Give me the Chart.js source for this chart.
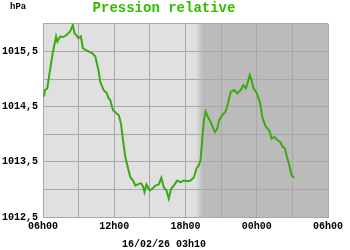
<!DOCTYPE html>
<html>
<head>
<meta charset="utf-8">
<script src="https://cdn.jsdelivr.net/npm/chart.js"></script>
<style>
  html, body { margin: 0; padding: 0; background: #fff; }
  #wrap { width: 350px; height: 250px; }
</style>
</head>
<body>
<div id="wrap"><canvas id="c"></canvas></div>
<script>
// hours since 06h00 (16/02) and pressure in hPa
const hours = [
  0.08, 0.17, 0.36, 0.59, 0.82, 1.10, 1.21, 1.44, 1.72, 2.00, 2.28, 2.51, 2.65, 2.79,
  2.98, 3.19, 3.36, 3.55, 3.83, 4.12, 4.40, 4.67, 4.82, 5.10, 5.38, 5.52, 5.66, 5.89,
  6.17, 6.37, 6.57, 6.74, 6.93, 7.13, 7.35, 7.58, 7.78, 8.06, 8.26, 8.43, 8.54, 8.71,
  8.99, 9.19, 9.47, 9.75, 9.97, 10.17, 10.40, 10.59, 10.79, 11.01, 11.30, 11.58, 11.86,
  12.15, 12.43, 12.71, 12.93, 13.13, 13.27, 13.42, 13.55, 13.69, 13.89, 14.12, 14.34,
  14.48, 14.68, 14.82, 15.11, 15.38, 15.58, 15.81, 16.09, 16.37, 16.65, 16.88, 17.08,
  17.22, 17.41, 17.56, 17.73, 18.01, 18.28, 18.49, 18.77, 19.05, 19.25, 19.47, 19.76,
  19.98, 20.18, 20.37, 20.54, 20.74, 20.94, 21.16
];
const pressure = [
  1014.68, 1014.80, 1014.83, 1015.16, 1015.47, 1015.77, 1015.68, 1015.77, 1015.76, 1015.80, 1015.86, 1015.98, 1015.83, 1015.80,
  1015.74, 1015.77, 1015.56, 1015.53, 1015.50, 1015.47, 1015.41, 1015.16, 1014.95, 1014.80, 1014.74, 1014.65, 1014.62, 1014.44,
  1014.38, 1014.35, 1014.19, 1013.89, 1013.59, 1013.41, 1013.22, 1013.16, 1013.07, 1013.10, 1013.11, 1013.05, 1012.95, 1013.09,
  1012.98, 1013.01, 1013.07, 1013.09, 1013.21, 1013.04, 1012.98, 1012.83, 1013.01, 1013.07, 1013.16, 1013.13, 1013.16,
  1013.15, 1013.16, 1013.22, 1013.38, 1013.44, 1013.53, 1013.95, 1014.25, 1014.41, 1014.31, 1014.22, 1014.10,
  1014.04, 1014.10, 1014.25, 1014.35, 1014.41, 1014.56, 1014.77, 1014.80, 1014.74, 1014.80, 1014.89, 1014.83,
  1014.92, 1015.07, 1014.98, 1014.83, 1014.74, 1014.56, 1014.29, 1014.13, 1014.07, 1013.92, 1013.95, 1013.89,
  1013.86, 1013.77, 1013.74, 1013.59, 1013.44, 1013.25, 1013.21
];

const startHour = 6;          // axis starts at 06h00
const nightFrom = 12.85;      // shading fades in here (hours from start)
const nightTo = 13.5;
const stamp = "16/02/26 03h10";

const mono = "'Liberation Mono', 'DejaVu Sans Mono', monospace";

// plot background: day / night shading
const bgPlugin = {
  id: "bg",
  beforeDraw(chart) {
    const { ctx, chartArea: a, scales } = chart;
    const x1 = scales.x.getPixelForValue(nightFrom);
    const x2 = scales.x.getPixelForValue(nightTo);
    ctx.save();
    const g = ctx.createLinearGradient(x1, 0, x2, 0);
    g.addColorStop(0, "#e0e0e0");
    g.addColorStop(1, "#bbbbbb");
    ctx.fillStyle = g;
    ctx.fillRect(a.left, a.top, a.right - a.left, a.bottom - a.top);
    ctx.restore();
  },
  afterDraw(chart) {
    const ctx = chart.ctx;
    ctx.save();
    ctx.font = "bold 9px " + mono;
    ctx.fillStyle = "#000";
    ctx.textBaseline = "middle";
    ctx.fillText("hPa", 10, 7);
    ctx.restore();
  }
};

new Chart(document.getElementById("c"), {
  type: "line",
  data: {
    datasets: [{
      data: hours.map((h, i) => ({ x: h, y: pressure[i] })),
      borderColor: "#3aaa12",
      borderWidth: 2,
      pointRadius: 0,
      tension: 0,
      fill: false
    }]
  },
  options: {
    responsive: true,
    maintainAspectRatio: false,
    animation: false,
    layout: { padding: { left: 0, right: 22, top: 0, bottom: 0 } },
    plugins: {
      legend: { display: false },
      tooltip: { enabled: false },
      title: {
        display: true,
        text: "Pression relative",
        color: "#33bb00",
        font: { family: mono, size: 14, weight: "bold" },
        padding: { top: 0, bottom: 7 }
      },
      subtitle: {
        display: true,
        position: "bottom",
        text: stamp,
        color: "#000",
        font: { family: mono, size: 10, weight: "bold" },
        padding: { top: 6, bottom: 0 }
      }
    },
    scales: {
      x: {
        type: "linear",
        min: 0,
        max: 24,
        border: { display: true, color: "#a8a8a8" },
        grid: { color: "#a8a8a8", drawTicks: false },
        ticks: {
          stepSize: 3,
          autoSkip: false,
          maxRotation: 0,
          padding: 3,
          color: "#000",
          font: { family: mono, size: 10, weight: "bold" },
          callback: v => v % 6 === 0 ? String((startHour + v) % 24).padStart(2, "0") + "h00" : ""
        },
        afterFit: s => { s.height = 15; }
      },
      y: {
        min: 1012.5,
        max: 1016,
        border: { display: true, color: "#a8a8a8" },
        grid: { color: "#a8a8a8", drawTicks: false },
        ticks: {
          stepSize: 0.5,
          padding: 5,
          color: "#000",
          font: { family: mono, size: 10, weight: "bold" },
          callback: v => Math.abs(v % 1 - 0.5) < 1e-6 ? v.toFixed(1).replace(".", ",") : ""
        },
        afterFit: s => { s.width = 43; }
      }
    }
  },
  plugins: [bgPlugin]
});
</script>
</body>
</html>
